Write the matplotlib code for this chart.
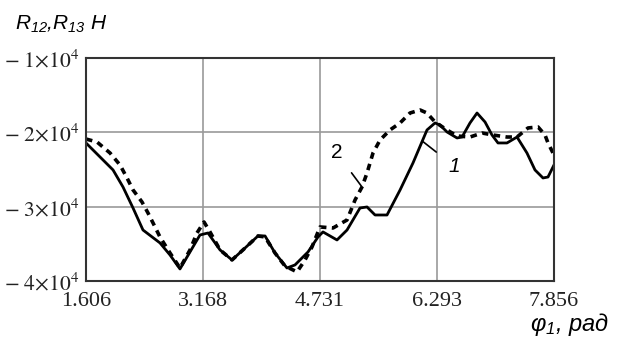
import matplotlib
matplotlib.use("Agg")
import matplotlib.pyplot as plt
from matplotlib.ticker import FixedLocator, FuncFormatter

plt.rcParams['mathtext.fontset'] = 'stix'
plt.rcParams['mathtext.it'] = 'Liberation Sans:italic'
plt.rcParams['mathtext.rm'] = 'Liberation Sans:italic'

# curve 1 (solid) - R12
phi_1 = [1.606, 1.967, 2.100, 2.234, 2.367, 2.594, 2.728, 2.861, 2.995, 3.128,
         3.235, 3.396, 3.556, 3.730, 3.903, 3.997, 4.130, 4.290, 4.397, 4.571,
         4.704, 4.771, 4.958, 5.092, 5.265, 5.359, 5.466, 5.626, 5.800, 5.973,
         6.160, 6.267, 6.334, 6.427, 6.561, 6.628, 6.734, 6.828, 6.935, 7.028,
         7.108, 7.228, 7.362, 7.495, 7.602, 7.709, 7.776, 7.856]
r_1 = [-21430, -25060, -27350, -30180, -33140, -34880, -36500, -38380, -36090, -33810,
       -33540, -35820, -37170, -35560, -33940, -33940, -36230, -38250, -37840, -36090,
       -34080, -33400, -34480, -33140, -30180, -30040, -31120, -31120, -27760, -24120,
       -19680, -18740, -19010, -19950, -20760, -20630, -18740, -17400, -18610, -20360,
       -21430, -21430, -20630, -22780, -25060, -26140, -26010, -24390]

# curve 2 (dashed) - R13
phi_2 = [1.606, 1.753, 1.927, 2.060, 2.154, 2.234, 2.354, 2.434, 2.528, 2.594,
         2.728, 2.861, 2.995, 3.088, 3.182, 3.262, 3.396, 3.556, 3.730, 3.903,
         3.997, 4.130, 4.263, 4.424, 4.531, 4.624, 4.731, 4.905, 5.092, 5.199,
         5.292, 5.359, 5.439, 5.533, 5.666, 5.800, 5.933, 6.067, 6.160, 6.267,
         6.427, 6.561, 6.734, 6.895, 7.041, 7.228, 7.362, 7.509, 7.643, 7.736,
         7.776, 7.856]
r_2 = [-20900, -21300, -22780, -24390, -26140, -27750, -29370, -30850, -32730, -34080,
       -36230, -38250, -35820, -33540, -32060, -33400, -35820, -37170, -35560, -33940,
       -34080, -36230, -37980, -38780, -37170, -35420, -32730, -32870, -31790, -29100,
       -27350, -25470, -22780, -21030, -19680, -18740, -17400, -16990, -17400, -18610,
       -19680, -20490, -20630, -20090, -20360, -20630, -20630, -19410, -19280, -20360,
       -21430, -23050]

x_ticks = [1.606, 3.168, 4.731, 6.293, 7.856]
y_ticks = [-4e4, -3e4, -2e4, -1e4]

fig = plt.figure(figsize=(6.21, 3.42), dpi=100)
ax = fig.add_axes([86 / 621, 61 / 342, 468 / 621, 223 / 342])

ax.plot(phi_1, r_1, color="black", lw=2.0, solid_joinstyle="round")
ax.plot(phi_2, r_2, color="black", lw=2.6, linestyle=(0, (1.8, 1.5)))

ax.set_xlim(x_ticks[0], x_ticks[-1])
ax.set_ylim(-4e4, -1e4)
ax.xaxis.set_major_locator(FixedLocator(x_ticks))
ax.yaxis.set_major_locator(FixedLocator(y_ticks))
ax.set_xticklabels(["%.3f" % v for v in x_ticks], family="Liberation Serif",
                   fontsize=16, color="#222222")
ax.yaxis.set_major_formatter(FuncFormatter(
    lambda v, p: r"$-\;%d\!\times\!10^{4}$" % round(-v / 1e4)))
for t in ax.get_yticklabels():
    t.set_fontsize(15.5)
    t.set_color("#222222")
ax.tick_params(length=0)
ax.tick_params(axis="x", pad=8)
ax.tick_params(axis="y", pad=5)
ax.grid(True, color="#9a9a9a", lw=1.2)
ax.set_axisbelow(True)
for s in ax.spines.values():
    s.set_color("#333333")
    s.set_linewidth(1.5)

# curve labels with leader lines
ax.annotate("2", xy=(5.292, -27350), xytext=(4.95, -22700),
            fontsize=15, family="Liberation Sans", ha="center", va="center",
            arrowprops=dict(arrowstyle="-", color="black", lw=1.2,
                            shrinkA=8, shrinkB=0))
ax.annotate("1", xy=(6.10, -21200), xytext=(6.53, -24600),
            fontsize=15, family="Liberation Sans", style="italic",
            ha="center", va="center",
            arrowprops=dict(arrowstyle="-", color="black", lw=1.2,
                            shrinkA=9, shrinkB=0))

fig.text(15 / 621, 1 - 24 / 342, r"$R_{12}$,$R_{13}$ H", fontsize=15,
         family="Liberation Sans", style="italic", math_fontfamily="custom",
         ha="left", va="center")
fig.text(609 / 621, 1 - 324 / 342, r"$φ_{1}$, рад", fontsize=17,
         family="Liberation Sans", style="italic", math_fontfamily="custom",
         ha="right", va="center")

fig.savefig("out.png", dpi=100)
